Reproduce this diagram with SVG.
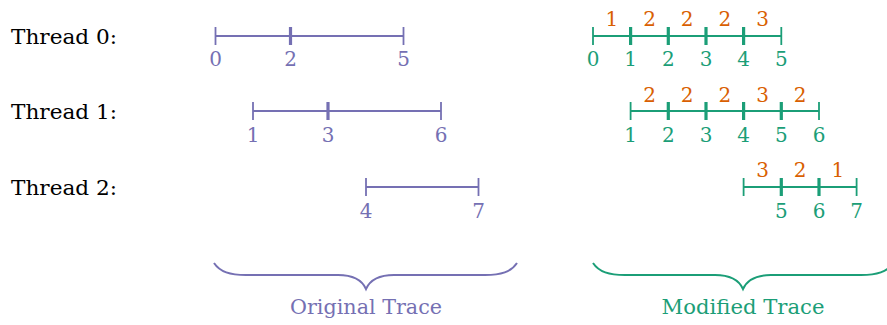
<svg xmlns="http://www.w3.org/2000/svg" width="887" height="325" viewBox="0 0 887 325">
<style>
text{font-family:"DejaVu Serif","Liberation Serif",serif;font-size:20px}
.lbl{fill:#000}
.p{fill:#7570b3}
.g{fill:#1b9e77}
.o{fill:#d95f02}
.c{text-anchor:middle}
.lp{stroke:#7570b3;stroke-width:2;fill:none}
.lg{stroke:#1b9e77;stroke-width:2;fill:none}
.ep{stroke:#7570b3;stroke-width:1.8}
.eg{stroke:#1b9e77;stroke-width:1.8}
.mp{stroke:#7570b3;stroke-width:3.2}
.mg{stroke:#1b9e77;stroke-width:3.2}
</style>
<rect width="887" height="325" fill="#fff"/>
<g id="thread-labels">
<text class="lbl" x="11" y="44" textLength="106" lengthAdjust="spacingAndGlyphs">Thread 0:</text>
<text class="lbl" x="11" y="119" textLength="106" lengthAdjust="spacingAndGlyphs">Thread 1:</text>
<text class="lbl" x="11" y="195" textLength="106" lengthAdjust="spacingAndGlyphs">Thread 2:</text>
</g>
<g id="orig-t0">
<line class="lp" x1="215.5" y1="36" x2="403.5" y2="36"/>
<line class="ep" x1="215.5" y1="27" x2="215.5" y2="45"/>
<line class="mp" x1="290.5" y1="27" x2="290.5" y2="45"/>
<line class="ep" x1="403.5" y1="27" x2="403.5" y2="45"/>
<text class="p c" x="215.5" y="66">0</text>
<text class="p c" x="290.5" y="66">2</text>
<text class="p c" x="403.5" y="66">5</text>
</g>
<g id="orig-t1">
<line class="lp" x1="253" y1="111" x2="441" y2="111"/>
<line class="ep" x1="253" y1="102" x2="253" y2="120"/>
<line class="mp" x1="328" y1="102" x2="328" y2="120"/>
<line class="ep" x1="441" y1="102" x2="441" y2="120"/>
<text class="p c" x="253" y="142">1</text>
<text class="p c" x="328" y="142">3</text>
<text class="p c" x="441" y="142">6</text>
</g>
<g id="orig-t2">
<line class="lp" x1="366" y1="187" x2="478.5" y2="187"/>
<line class="ep" x1="366" y1="178" x2="366" y2="196"/>
<line class="ep" x1="478.5" y1="178" x2="478.5" y2="196"/>
<text class="p c" x="366" y="218">4</text>
<text class="p c" x="478.5" y="218">7</text>
</g>
<g id="mod-t0">
<line class="lg" x1="593" y1="36" x2="781.3" y2="36"/>
<line class="eg" x1="593" y1="27" x2="593" y2="45"/>
<line class="mg" x1="630.6" y1="27" x2="630.6" y2="45"/>
<line class="mg" x1="668.3" y1="27" x2="668.3" y2="45"/>
<line class="mg" x1="706" y1="27" x2="706" y2="45"/>
<line class="mg" x1="743.6" y1="27" x2="743.6" y2="45"/>
<line class="eg" x1="781.3" y1="27" x2="781.3" y2="45"/>
<text class="g c" x="593" y="66">0</text>
<text class="g c" x="630.6" y="66">1</text>
<text class="g c" x="668.3" y="66">2</text>
<text class="g c" x="706" y="66">3</text>
<text class="g c" x="743.6" y="66">4</text>
<text class="g c" x="781.3" y="66">5</text>
<text class="o c" x="611.8" y="26">1</text>
<text class="o c" x="649.5" y="26">2</text>
<text class="o c" x="687.1" y="26">2</text>
<text class="o c" x="724.8" y="26">2</text>
<text class="o c" x="762.5" y="26">3</text>
</g>
<g id="mod-t1">
<line class="lg" x1="630.6" y1="111" x2="819" y2="111"/>
<line class="eg" x1="630.6" y1="102" x2="630.6" y2="120"/>
<line class="mg" x1="668.3" y1="102" x2="668.3" y2="120"/>
<line class="mg" x1="706" y1="102" x2="706" y2="120"/>
<line class="mg" x1="743.6" y1="102" x2="743.6" y2="120"/>
<line class="mg" x1="781.3" y1="102" x2="781.3" y2="120"/>
<line class="eg" x1="819" y1="102" x2="819" y2="120"/>
<text class="g c" x="630.6" y="142">1</text>
<text class="g c" x="668.3" y="142">2</text>
<text class="g c" x="706" y="142">3</text>
<text class="g c" x="743.6" y="142">4</text>
<text class="g c" x="781.3" y="142">5</text>
<text class="g c" x="819" y="142">6</text>
<text class="o c" x="649.5" y="102">2</text>
<text class="o c" x="687.1" y="102">2</text>
<text class="o c" x="724.8" y="102">2</text>
<text class="o c" x="762.5" y="102">3</text>
<text class="o c" x="800.1" y="102">2</text>
</g>
<g id="mod-t2">
<line class="lg" x1="743.6" y1="187" x2="856.6" y2="187"/>
<line class="eg" x1="743.6" y1="178" x2="743.6" y2="196"/>
<line class="mg" x1="781.3" y1="178" x2="781.3" y2="196"/>
<line class="mg" x1="819" y1="178" x2="819" y2="196"/>
<line class="eg" x1="856.6" y1="178" x2="856.6" y2="196"/>
<text class="g c" x="781.3" y="218">5</text>
<text class="g c" x="819" y="218">6</text>
<text class="g c" x="856.6" y="218">7</text>
<text class="o c" x="762.5" y="177">3</text>
<text class="o c" x="800.1" y="177">2</text>
<text class="o c" x="837.8" y="177">1</text>
</g>
<g id="brace-original">
<path class="lp" d="M214,263 C220,272 230,275 246,275 L338,275 C354,275 362,280 366,289 C370,280 378,275 394,275 L485,275 C501,275 511,272 517,263"/>
<text class="p c" x="366" y="314" textLength="152" lengthAdjust="spacingAndGlyphs">Original Trace</text>
</g>
<g id="brace-modified">
<path class="lg" d="M593,263 C599,272 609,275 625,275 L715,275 C731,275 739,280 743,289 C747,280 755,275 771,275 L861,275 C877,275 887,272 893,263"/>
<text class="g c" x="743" y="314" textLength="163" lengthAdjust="spacingAndGlyphs">Modified Trace</text>
</g>
</svg>
